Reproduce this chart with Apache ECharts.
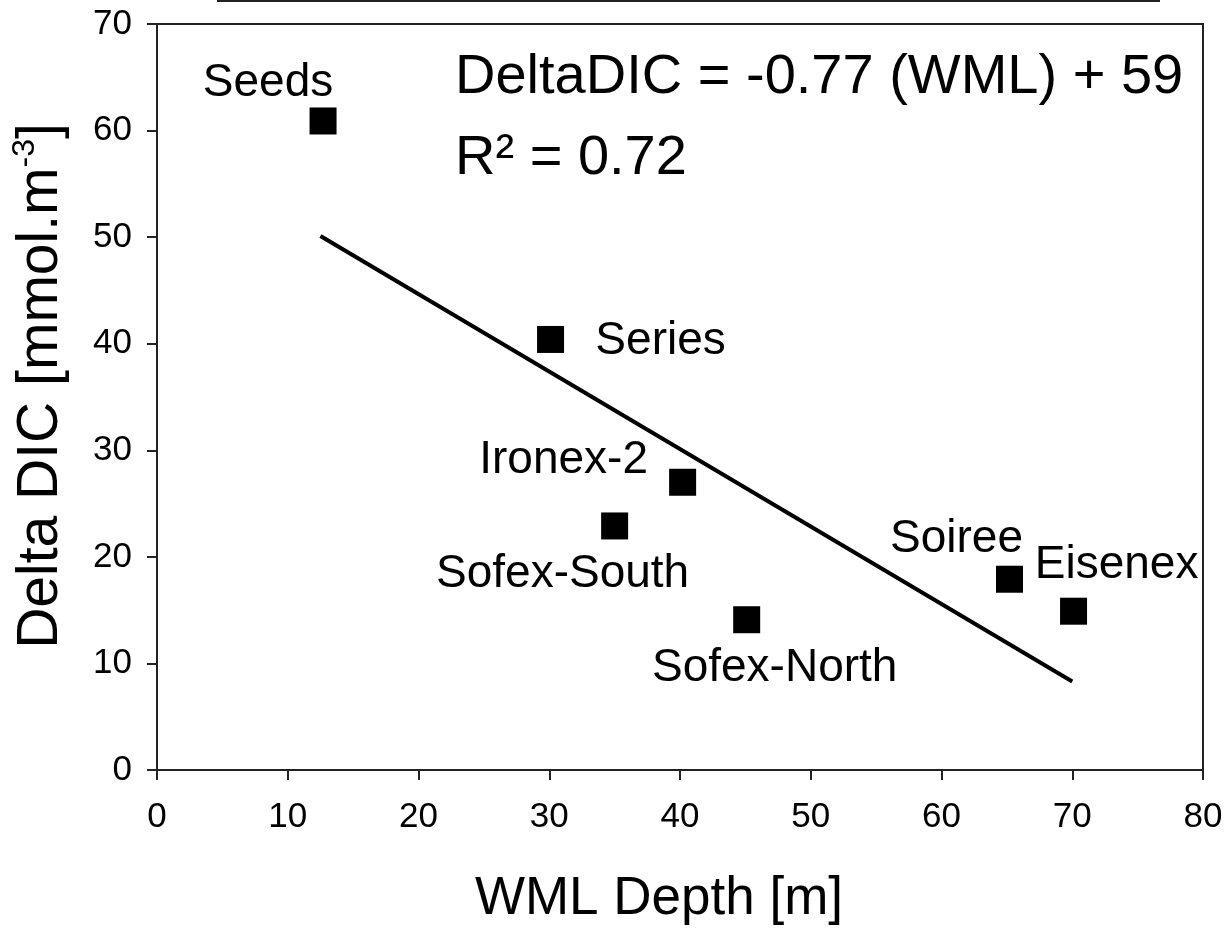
<!DOCTYPE html>
<html>
<head>
<meta charset="utf-8">
<script src="https://cdn.jsdelivr.net/npm/echarts@6/dist/echarts.min.js"></script>
<style>
html,body{margin:0;padding:0;background:#fff;}
#chart{width:1227px;height:928px;}
</style>
</head>
<body>
<div id="chart"></div>
<script>
// ---- data ----
const sites = ['Seeds', 'Series', 'Ironex-2', 'Sofex-South', 'Sofex-North', 'Soiree', 'Eisenex'];
const wmlDepth = [12.7, 30.1, 40.2, 35.0, 45.1, 65.2, 70.1];
const deltaDIC = [60.9, 40.4, 27.0, 22.9, 14.1, 17.9, 14.9];
const fitX = [12.5, 70];
const fitY = [50.1, 8.3];
const xTicks = [0, 10, 20, 30, 40, 50, 60, 70, 80];
const yTicks = [0, 10, 20, 30, 40, 50, 60, 70];
const equationText = 'DeltaDIC = -0.77 (WML) + 59';
const r2Text = 'R² = 0.72';

// ---- label placement (style, not data) ----
const labelOffsets = [[-55, -38], [110, 2], [-119, -22], [-52, 48], [28, 49], [-53, -40], [43, -46]];

const FONT = '"Liberation Sans", Arial, sans-serif';
const INK = '#000';

const chart = echarts.init(document.getElementById('chart'), null, {renderer: 'canvas'});

const points = sites.map((s, i) => ({
  name: s,
  value: [wmlDepth[i], deltaDIC[i]],
  label: {offset: labelOffsets[i]}
}));

const option = {
  backgroundColor: '#fff',
  animation: false,
  grid: {left: 157, top: 24, right: 24, bottom: 158, show: true, borderColor: '#222', borderWidth: 2,
         containLabel: false, outerBoundsMode: 'none'},
  xAxis: {
    type: 'value', min: xTicks[0], max: xTicks[xTicks.length - 1], interval: 10,
    name: 'WML Depth [m]', nameLocation: 'middle', nameGap: 103,
    nameTextStyle: {fontSize: 53, fontFamily: FONT, color: INK, padding: [0, 42, 0, 0]},
    axisLine: {show: true, onZero: false, lineStyle: {color: '#222', width: 2}},
    axisTick: {show: true, inside: false, length: 10, lineStyle: {color: '#222', width: 2}},
    axisLabel: {fontSize: 35, fontFamily: FONT, color: INK, margin: 30},
    splitLine: {show: false}
  },
  yAxis: {
    type: 'value', min: yTicks[0], max: yTicks[yTicks.length - 1], interval: 10,
    name: '{a|Delta DIC [mmol.m}{s|-3}{a|]}', nameLocation: 'middle', nameGap: 84, nameRotate: 90,
    nameTextStyle: {
      fontSize: 57, fontFamily: FONT, color: INK, padding: [0, 0, 0, 22],
      rich: {
        a: {fontSize: 57, fontFamily: FONT, color: INK, lineHeight: 64},
        s: {fontSize: 32, fontFamily: FONT, color: INK, lineHeight: 64, verticalAlign: 'top', padding: [0, 0, 22, 0]}
      }
    },
    axisLine: {show: true, onZero: false, lineStyle: {color: '#222', width: 2}},
    axisTick: {show: true, inside: false, length: 10, lineStyle: {color: '#222', width: 2}},
    axisLabel: {fontSize: 35, fontFamily: FONT, color: INK, margin: 25},
    splitLine: {show: false}
  },
  series: [
    {
      type: 'line',
      data: fitX.map((x, i) => [x, fitY[i]]),
      showSymbol: false, symbol: 'none',
      lineStyle: {color: '#000', width: 4},
      z: 2
    },
    {
      type: 'scatter',
      data: points,
      symbol: 'rect', symbolSize: 27,
      itemStyle: {color: '#000', opacity: 1},
      label: {
        show: true, position: 'inside', formatter: '{b}',
        fontSize: 46, fontFamily: FONT, color: INK, opacity: 1,
        align: 'center', verticalAlign: 'middle'
      },
      emphasis: {disabled: true},
      z: 3
    }
  ],
  graphic: [
    {type: 'line', shape: {x1: 217, y1: 1, x2: 1160, y2: 1}, style: {stroke: '#222', lineWidth: 2}},
    {type: 'text', left: 455, top: 50, style: {text: equationText, font: '56px ' + FONT, fill: INK}},
    {type: 'text', left: 455, top: 131, style: {text: r2Text, font: '56px ' + FONT, fill: INK}}
  ]
};
chart.setOption(option);
</script>
</body>
</html>
